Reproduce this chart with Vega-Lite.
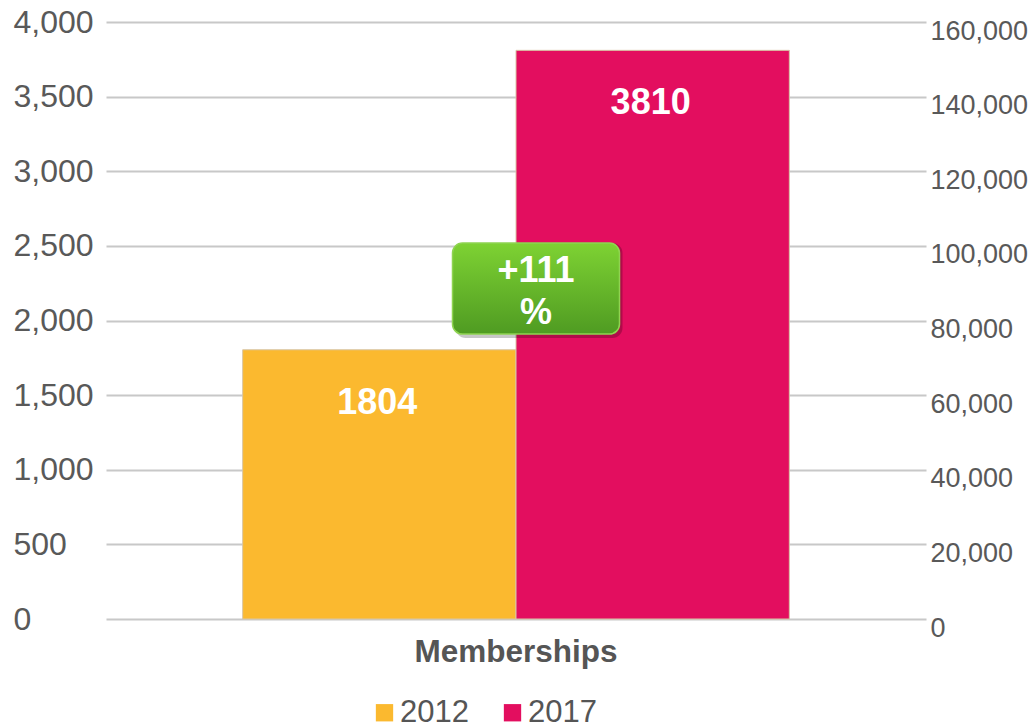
{
  "$schema": "https://vega.github.io/schema/vega-lite/v6.json",
  "width": 820,
  "height": 597,
  "autosize": "none",
  "padding": {"left": 106, "top": 22, "right": 105, "bottom": 109},
  "background": "white",
  "config": {"view": {"stroke": null}, "font": "Liberation Sans"},
  "datasets": {
    "bars": [
      {"category": "Memberships", "year": "2012", "value": 1804},
      {"category": "Memberships", "year": "2017", "value": 3810}
    ],
    "badge": [
      {"category": "Memberships", "label": "+111\n%", "lo": 1909, "hi": 2519, "mid": 2214}
    ]
  },
  "layer": [
    {
      "layer": [
        {
          "data": {"name": "bars"},
          "mark": {"type": "bar", "stroke": "#d8c6a6", "strokeWidth": 1},
          "encoding": {
            "x": {"field": "category", "type": "nominal", "title": null,
              "scale": {"paddingOuter": 0.25, "paddingInner": 0},
              "axis": {"labelFontSize": 31.5, "labelFontWeight": "bold", "labelColor": "#555555", "domain": false, "ticks": false, "labelPadding": 17, "labelAngle": 0, "labelLimit": 0}},
            "xOffset": {"field": "year", "type": "nominal", "scale": {"paddingInner": 0, "paddingOuter": 0}},
            "y": {"field": "value", "type": "quantitative", "title": null,
              "scale": {"domain": [0, 4000]},
              "axis": {"values": [0, 500, 1000, 1500, 2000, 2500, 3000, 3500, 4000], "format": ",d", "labelAlign": "left", "labelPadding": 93, "labelFontSize": 32, "labelColor": "#595959", "ticks": false, "domain": false, "labelFlush": false, "labelOverlap": false, "labelLimit": 0, "grid": true, "gridColor": "#c8c8c8", "gridWidth": 2}},
            "color": {"field": "year", "type": "nominal",
              "scale": {"domain": ["2012", "2017"], "range": ["#fbb92f", "#e30e5f"]},
              "legend": {"title": null, "orient": "none", "legendX": 263, "legendY": 675, "padding": 0, "direction": "horizontal", "symbolType": "square", "symbolSize": 300, "symbolStrokeWidth": 0, "labelFontSize": 31, "labelColor": "#555555", "labelOffset": 0, "columnPadding": 28}}
          }
        },
        {
          "data": {"name": "bars"},
          "mark": {"type": "text", "color": "white", "fontWeight": "bold", "fontSize": 36, "baseline": "middle", "dy": 53, "dx": -2},
          "encoding": {
            "x": {"field": "category", "type": "nominal", "title": null},
            "xOffset": {"field": "year", "type": "nominal"},
            "y": {"field": "value", "type": "quantitative", "title": null, "scale": {"domain": [0, 4000]}},
            "text": {"field": "value", "type": "quantitative", "format": "d"}
          }
        },
        {
          "data": {"name": "badge"},
          "mark": {"type": "bar", "width": 167, "cornerRadius": 10, "fill": "#000000", "opacity": 0.22, "xOffset": 23, "yOffset": 4},
          "encoding": {
            "x": {"field": "category", "type": "nominal", "title": null},
            "y": {"field": "lo", "type": "quantitative", "title": null, "scale": {"domain": [0, 4000]}},
            "y2": {"field": "hi"}
          }
        },
        {
          "data": {"name": "badge"},
          "mark": {"type": "bar", "width": 167, "cornerRadius": 10, "xOffset": 20, "stroke": "#8fd451", "strokeWidth": 1.5,
            "fill": {"gradient": "linear", "x1": 0, "y1": 0, "x2": 0, "y2": 1, "stops": [{"offset": 0, "color": "#7ed233"}, {"offset": 1, "color": "#4f9b22"}]}},
          "encoding": {
            "x": {"field": "category", "type": "nominal", "title": null},
            "y": {"field": "lo", "type": "quantitative", "title": null, "scale": {"domain": [0, 4000]}},
            "y2": {"field": "hi"}
          }
        },
        {
          "data": {"name": "badge"},
          "mark": {"type": "text", "color": "white", "fontWeight": "bold", "fontSize": 36, "baseline": "middle", "align": "center", "dx": 20, "dy": -18, "lineBreak": "\n", "lineHeight": 42},
          "encoding": {
            "x": {"field": "category", "type": "nominal", "title": null},
            "y": {"field": "mid", "type": "quantitative", "title": null, "scale": {"domain": [0, 4000]}},
            "text": {"field": "label", "type": "nominal"}
          }
        }
      ]
    },
    {
      "data": {"name": "bars"},
      "mark": {"type": "point", "opacity": 0},
      "encoding": {
        "y": {"field": "value", "type": "quantitative", "title": null,
          "scale": {"domain": [0, 160000]},
          "axis": {"orient": "right", "values": [0, 20000, 40000, 60000, 80000, 100000, 120000, 140000, 160000], "format": ",d", "labelAlign": "left", "labelPadding": 4, "labelOffset": 9, "labelFontSize": 27, "labelColor": "#595959", "ticks": false, "domain": false, "grid": false, "labelFlush": false, "labelOverlap": false, "labelLimit": 0}}
      }
    }
  ],
  "resolve": {"scale": {"y": "independent"}}
}
